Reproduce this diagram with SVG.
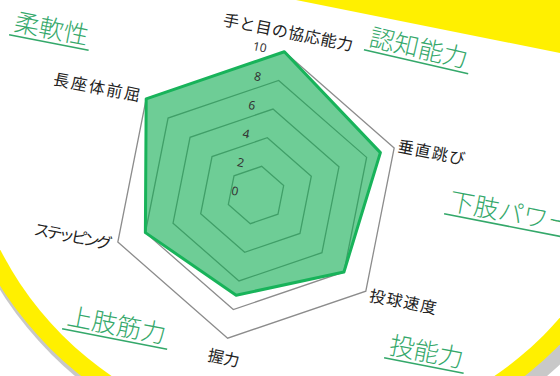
<svg xmlns="http://www.w3.org/2000/svg" width="560" height="376" viewBox="0 0 560 376">
<style>
.grid{fill:none;stroke:#8c8c8c;stroke-width:1.3}
.data{fill:#0dac50;fill-opacity:0.6;stroke:#18b35a;stroke-width:3;stroke-linejoin:round}
.tick{font-family:"Noto Sans","DejaVu Sans",sans-serif;font-size:12px;fill:#333;text-anchor:end}
.cat{font-family:"Noto Sans CJK JP",sans-serif;font-size:16px;fill:#222}
.title{font-family:"Noto Sans CJK JP",sans-serif;font-size:25px;fill:#34a86a;font-weight:300}
.ul{stroke:#34a86a;stroke-width:1.6}
</style>
<rect width="560" height="376" fill="#ffffff"/>
<g id="ring">
<circle cx="311" cy="95" r="367" fill="#c8c8c8"/>
<circle cx="303" cy="95" r="358" fill="#fff000"/>
<circle cx="303" cy="95" r="340" fill="#ffffff"/>
</g>
<g id="banner">
<polygon points="296,0 560,0 560,53" fill="#fff000"/>
</g>
<g transform="translate(256 195) rotate(11.2)">
<g id="grid">
<polygon class="grid" points="0,-146 126.4,-73 126.4,73 0,146 -126.4,73 -126.4,-73"/>
<polygon class="grid" points="0,-116.8 101.2,-58.4 101.2,58.4 0,116.8 -101.2,58.4 -101.2,-58.4"/>
<polygon class="grid" points="0,-87.6 75.9,-43.8 75.9,43.8 0,87.6 -75.9,43.8 -75.9,-43.8"/>
<polygon class="grid" points="0,-58.4 50.6,-29.2 50.6,29.2 0,58.4 -50.6,29.2 -50.6,-29.2"/>
<polygon class="grid" points="0,-29.2 25.3,-14.6 25.3,14.6 0,29.2 -25.3,14.6 -25.3,-14.6"/>
</g>
<g id="series">
<polygon class="data" points="0,-146 113.8,-65.7 101.2,58.4 0,102.2 -101.2,58.4 -126.4,-73"/>
</g>
<g id="ticks">
<text class="tick" x="-18" y="4.5">0</text>
<text class="tick" x="-18" y="-24.7">2</text>
<text class="tick" x="-18" y="-53.9">4</text>
<text class="tick" x="-18" y="-83.1">6</text>
<text class="tick" x="-18" y="-112.3">8</text>
<text class="tick" x="-18" y="-141.5">10</text>
</g>
<g id="labels">
<text class="cat" x="0" y="-160" text-anchor="middle" textLength="132">手と目の協応能力</text>
<text class="cat" x="130" y="-70" textLength="68">垂直跳び</text>
<text class="cat" x="131" y="82" textLength="68">投球速度</text>
<text class="cat" x="0" y="172" text-anchor="middle">握力</text>
<text class="cat" x="-132" y="82" text-anchor="end" textLength="79">ステッピング</text>
<text class="cat" x="-133" y="-69" text-anchor="end" textLength="88">長座体前屈</text>
</g>
</g>
<g id="t1" transform="translate(13 30.5) rotate(11)"><text class="title" x="0" y="0">柔軟性</text><line class="ul" x1="-3" y1="5" x2="78" y2="5"/></g>
<g id="t2" transform="translate(368 45.5) rotate(13)"><text class="title" x="0" y="0">認知能力</text><line class="ul" x1="-3" y1="5" x2="104" y2="5"/></g>
<g id="t3" transform="translate(448 209.5) rotate(11)"><text class="title" x="0" y="0">下肢パワー</text><line class="ul" x1="-3" y1="5" x2="130" y2="5"/></g>
<g id="t4" transform="translate(388 353.5) rotate(11)"><text class="title" x="0" y="0">投能力</text><line class="ul" x1="-3" y1="5" x2="78" y2="5"/></g>
<g id="t5" transform="translate(66 324.5) rotate(11)"><text class="title" x="0" y="0">上肢筋力</text><line class="ul" x1="-3" y1="5" x2="104" y2="5"/></g>
</svg>
